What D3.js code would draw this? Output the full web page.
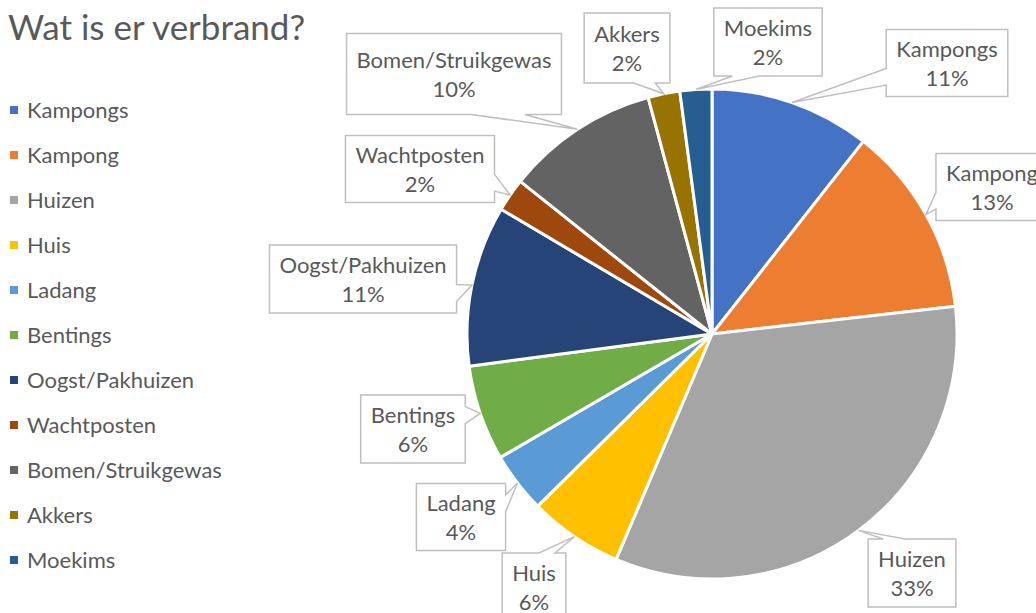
<!DOCTYPE html>
<html>
<head>
<meta charset="utf-8">
<script src="https://cdn.jsdelivr.net/npm/d3@7"></script>
<style>
  html, body { margin: 0; padding: 0; background: #fff; }
  svg { display: block; }
  text { font-family: Lato, "Noto Sans", sans-serif; fill: #595959; }
</style>
</head>
<body>
<svg id="chart" width="1036" height="613"></svg>
<script>
// ---- data ----
const title = "Wat is er verbrand?";
const categories = ["Kampongs", "Kampong", "Huizen", "Huis", "Ladang", "Bentings",
  "Oogst/Pakhuizen", "Wachtposten", "Bomen/Struikgewas", "Akkers", "Moekims"];
const values = [10.6, 12.6, 33.2, 6.2, 4.0, 6.3, 10.6, 2.2, 10.1, 2.1, 2.1];
const colors = ["#4472C4", "#ED7D31", "#A5A5A5", "#FFC000", "#5B9BD5", "#70AD47",
  "#264478", "#9E480E", "#636363", "#997300", "#255E91"];
// label callout box centres and heights (layout)
const labelCx = [947, 992, 912, 534, 461, 413, 363, 420, 454, 627, 768];
const labelCy = [63, 187, 573, 587, 517, 429, 279, 169, 74, 48, 42];
const labelH  = [67, 67, 68, 68, 67, 68, 68, 67, 81, 70, 68];

// ---- layout ----
const W = 1036, H = 613;
const cx = 712, cy = 334, R = 245;
const fontSize = 22;

const svg = d3.select("#chart");

svg.append("text")
  .attr("x", 8).attr("y", 40)
  .style("font-size", "35px")
  .text(title);

const pie = d3.pie().sort(null).value(d => d.value);
const data = categories.map((c, i) => ({ name: c, value: values[i], color: colors[i], lx: labelCx[i], ly: labelCy[i], lh: labelH[i] }));
const arcs = pie(data);
const total = d3.sum(values);
const arc = d3.arc().innerRadius(0).outerRadius(R);

const g = svg.append("g").attr("transform", `translate(${cx},${cy})`);
g.selectAll("path.slice").data(arcs).join("path")
  .attr("class", "slice")
  .attr("d", arc)
  .attr("fill", d => d.data.color)
  .attr("stroke", "#fff")
  .attr("stroke-width", 3)
  .attr("stroke-linejoin", "round");

// ---- legend ----
const legY = d3.scalePoint().domain(categories).range([110, 560]);
const leg = svg.append("g");
categories.forEach((c, i) => {
  const y = legY(c);
  leg.append("rect").attr("x", 10).attr("y", y - 4).attr("width", 8).attr("height", 8).attr("fill", colors[i]);
  leg.append("text").attr("x", 27).attr("y", y + 7.5).style("font-size", fontSize + "px").text(c);
});

// ---- callout labels ----
const labG = svg.append("g");
arcs.forEach(a => {
  const mid = (a.startAngle + a.endAngle) / 2;
  const tx = cx + R * Math.sin(mid), ty = cy - R * Math.cos(mid);
  const gl = labG.append("g");
  const t1 = gl.append("text").attr("text-anchor", "middle").style("font-size", fontSize + "px")
    .attr("x", a.data.lx).attr("y", a.data.ly - 6.5).text(a.data.name);
  const pct = Math.round(a.data.value / total * 100) + "%";
  gl.append("text").attr("text-anchor", "middle").style("font-size", fontSize + "px")
    .attr("x", a.data.lx).attr("y", a.data.ly + 22.5).text(pct);
  const tw = t1.node().getComputedTextLength();
  const bw = tw + 20, bh = a.data.lh;
  const x0 = a.data.lx - bw / 2, x1 = a.data.lx + bw / 2, y0 = a.data.ly - bh / 2, y1 = a.data.ly + bh / 2;
  const ndx = (tx - a.data.lx) / (bw / 2), ndy = (ty - a.data.ly) / (bh / 2);
  let pts = [];
  const fr = (lo, hi, f) => lo + (hi - lo) * f;
  if (Math.abs(ndx) >= Math.abs(ndy)) {
    const hiHalf = ty > a.data.ly;
    const f0 = hiHalf ? 0.58 : 0.17, f1 = hiHalf ? 0.83 : 0.42;
    const b0 = fr(y0, y1, f0), b1 = fr(y0, y1, f1);
    if (ndx > 0) {
      pts = [[x0, y0], [x1, y0], [x1, b0], [tx, ty], [x1, b1], [x1, y1], [x0, y1]];
    } else {
      pts = [[x0, y0], [x1, y0], [x1, y1], [x0, y1], [x0, b1], [tx, ty], [x0, b0]];
    }
  } else {
    const hiHalf = tx > a.data.lx;
    const f0 = hiHalf ? 0.58 : 0.17, f1 = hiHalf ? 0.83 : 0.42;
    const b0 = fr(x0, x1, f0), b1 = fr(x0, x1, f1);
    if (ndy > 0) {
      pts = [[x0, y0], [x1, y0], [x1, y1], [b1, y1], [tx, ty], [b0, y1], [x0, y1]];
    } else {
      pts = [[x0, y0], [b0, y0], [tx, ty], [b1, y0], [x1, y0], [x1, y1], [x0, y1]];
    }
  }
  gl.insert("path", "text")
    .attr("d", d3.line()(pts) + "Z")
    .attr("fill", "#fff")
    .attr("stroke", "#BFBFBF")
    .attr("stroke-width", 1.5);
});
</script>
</body>
</html>
